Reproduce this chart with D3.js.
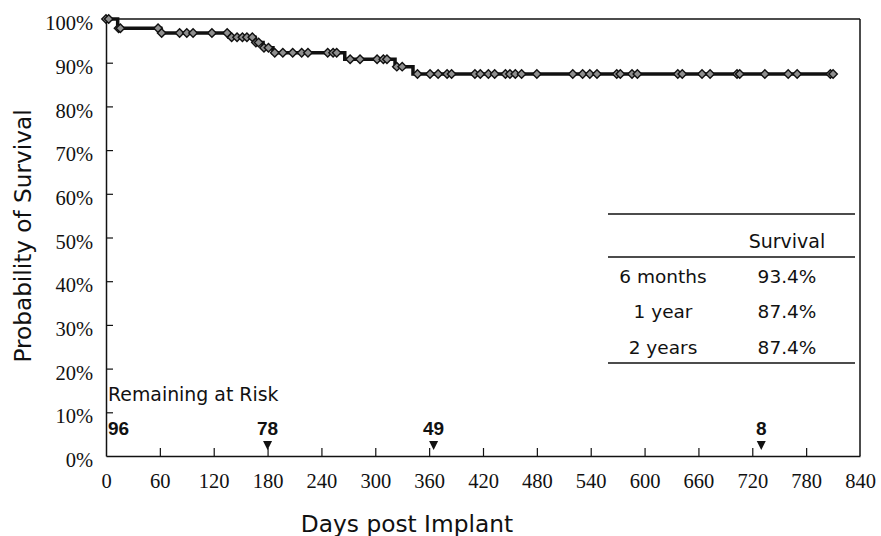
<!DOCTYPE html>
<html>
<head>
<meta charset="utf-8">
<script src="https://cdn.jsdelivr.net/npm/d3@7"></script>
<style>
  html, body { margin: 0; padding: 0; background: #fff; }
  svg { display: block; }
</style>
</head>
<body>
<svg id="chart" width="881" height="536"></svg>
<script>
// ---- data ----
const stepDays = [0, 13, 61, 137, 166, 175, 186, 266, 322, 342];
const stepSurv = [1.0, 0.979, 0.968, 0.958, 0.946, 0.934, 0.923, 0.908, 0.891, 0.874];
const endDay = 810;
const censorDays = [0, 3, 14, 16, 58, 62, 82, 90, 97, 118, 135,
  140, 146, 152, 157, 163, 167, 170, 176, 181,
  188, 197, 208, 218, 225, 247, 253, 257,
  272, 283, 302, 309, 313, 324, 330,
  347, 361, 370, 380, 385, 411, 417, 426, 433, 445, 450, 456, 463, 480,
  520, 531, 539, 547, 569, 573, 586, 592, 637, 642, 664, 673, 703, 706,
  734, 760, 770, 807, 810];
const riskDays = [0, 180, 365, 730];
const riskCounts = [96, 78, 49, 8];
const xTicks = [0, 60, 120, 180, 240, 300, 360, 420, 480, 540, 600, 660, 720, 780, 840];
const yTicks = [0, 0.1, 0.2, 0.3, 0.4, 0.5, 0.6, 0.7, 0.8, 0.9, 1.0];
const tableHeader = "Survival";
const tableLabels = ["6 months", "1 year", "2 years"];
const tableValues = ["93.4%", "87.4%", "87.4%"];

(function () {
// ---- layout ----
const svg = d3.select("#chart");
const pL = 106, pR = 860, pT = 19, pB = 456;
const x = d3.scaleLinear().domain([0, 840]).range([pL, pR]);
const y = d3.scaleLinear().domain([0, 1]).range([pB, pT]);
const sans = "'DejaVu Sans', Verdana, sans-serif";
const serif = "'Liberation Serif', 'Times New Roman', serif";
const ink = "#111";

// frame (top and right)
svg.append("line").attr("x1", pL).attr("x2", pR).attr("y1", pT).attr("y2", pT)
  .attr("stroke", ink).attr("stroke-width", 1.5);
svg.append("line").attr("x1", pR).attr("x2", pR).attr("y1", pT).attr("y2", pB)
  .attr("stroke", ink).attr("stroke-width", 1.5);

// axes
const yAxis = svg.append("g").attr("transform", `translate(${pL},0)`)
  .call(d3.axisLeft(y).tickValues(yTicks).tickFormat(d3.format(".0%"))
    .tickSizeInner(-7).tickSizeOuter(0).tickPadding(13));
const xAxis = svg.append("g").attr("transform", `translate(0,${pB})`)
  .call(d3.axisBottom(x).tickValues(xTicks).tickFormat(d3.format("d"))
    .tickSizeInner(-8).tickSizeOuter(0).tickPadding(17));
[yAxis, xAxis].forEach(g => {
  g.select(".domain").attr("stroke", ink).attr("stroke-width", 1.5);
  g.selectAll(".tick line").attr("stroke", ink).attr("stroke-width", 1.2);
  g.selectAll(".tick text").attr("fill", ink).attr("font-family", serif).attr("font-size", 20.5);
});
yAxis.selectAll(".tick text").attr("dy", "0.52em");
xAxis.selectAll(".tick").filter(d => d === 0 || d === 840).select("line").remove();
yAxis.selectAll(".tick").filter(d => d === 0).select("line").remove();

// axis titles
svg.append("text").attr("x", 407).attr("y", 532).attr("text-anchor", "middle")
  .attr("font-family", sans).attr("font-size", 23.3).attr("fill", ink).text("Days post Implant");
svg.append("text").attr("transform", "translate(31,236) rotate(-90)").attr("text-anchor", "middle")
  .attr("font-family", sans).attr("font-size", 23.2).attr("fill", ink).text("Probability of Survival");

// survival curve
const curvePts = stepDays.map((d, i) => [d, stepSurv[i]]);
curvePts.push([endDay, stepSurv[stepSurv.length - 1]]);
const line = d3.line().x(d => x(d[0])).y(d => y(d[1])).curve(d3.curveStepAfter);
svg.append("path").datum(curvePts).attr("d", line)
  .attr("fill", "none").attr("stroke", ink).attr("stroke-width", 3.5);

// censor marks
const survAt = day => {
  let s = stepSurv[0];
  for (let i = 0; i < stepDays.length; i++) if (stepDays[i] <= day) s = stepSurv[i];
  return s;
};
const diamond = d3.symbol().type(d3.symbolDiamond2 || d3.symbolDiamond).size(46);
svg.append("g").selectAll("path").data(censorDays).join("path")
  .attr("d", diamond)
  .attr("transform", d => `translate(${x(d)},${y(survAt(d))})`)
  .attr("fill", "#8f8f8f").attr("stroke", ink).attr("stroke-width", 1.4);

// remaining at risk
svg.append("text").attr("x", 108).attr("y", 401)
  .attr("font-family", sans).attr("font-size", 18.9).attr("fill", ink).text("Remaining at Risk");
svg.append("g").selectAll("text").data(riskDays).join("text")
  .attr("x", (d, i) => i === 0 ? 108 : x(d))
  .attr("y", 435)
  .attr("text-anchor", (d, i) => i === 0 ? "start" : "middle")
  .attr("font-family", "'Liberation Sans', Arial, sans-serif").attr("font-weight", "bold")
  .attr("font-size", 19).attr("fill", ink)
  .text((d, i) => riskCounts[i]);
svg.append("g").selectAll("path").data(riskDays.slice(1)).join("path")
  .attr("d", d => `M${x(d) - 4.5},441 L${x(d) + 4.5},441 L${x(d)},450 Z`)
  .attr("fill", ink);

// survival table
const tL = 608, tR = 855;
[214, 257, 363].forEach(yy => {
  svg.append("line").attr("x1", tL).attr("x2", tR).attr("y1", yy).attr("y2", yy)
    .attr("stroke", ink).attr("stroke-width", 1.5);
});
svg.append("text").attr("x", 787).attr("y", 248).attr("text-anchor", "middle")
  .attr("font-family", sans).attr("font-size", 19).attr("fill", ink).text(tableHeader);
const rowY = [283, 318, 354];
tableLabels.forEach((lab, i) => {
  svg.append("text").attr("x", 663).attr("y", rowY[i]).attr("text-anchor", "middle")
    .attr("font-family", sans).attr("font-size", 18.5).attr("fill", ink).text(lab);
  svg.append("text").attr("x", 787).attr("y", rowY[i]).attr("text-anchor", "middle")
    .attr("font-family", sans).attr("font-size", 18.5).attr("fill", ink).text(tableValues[i]);
});
})();
</script>
</body>
</html>
